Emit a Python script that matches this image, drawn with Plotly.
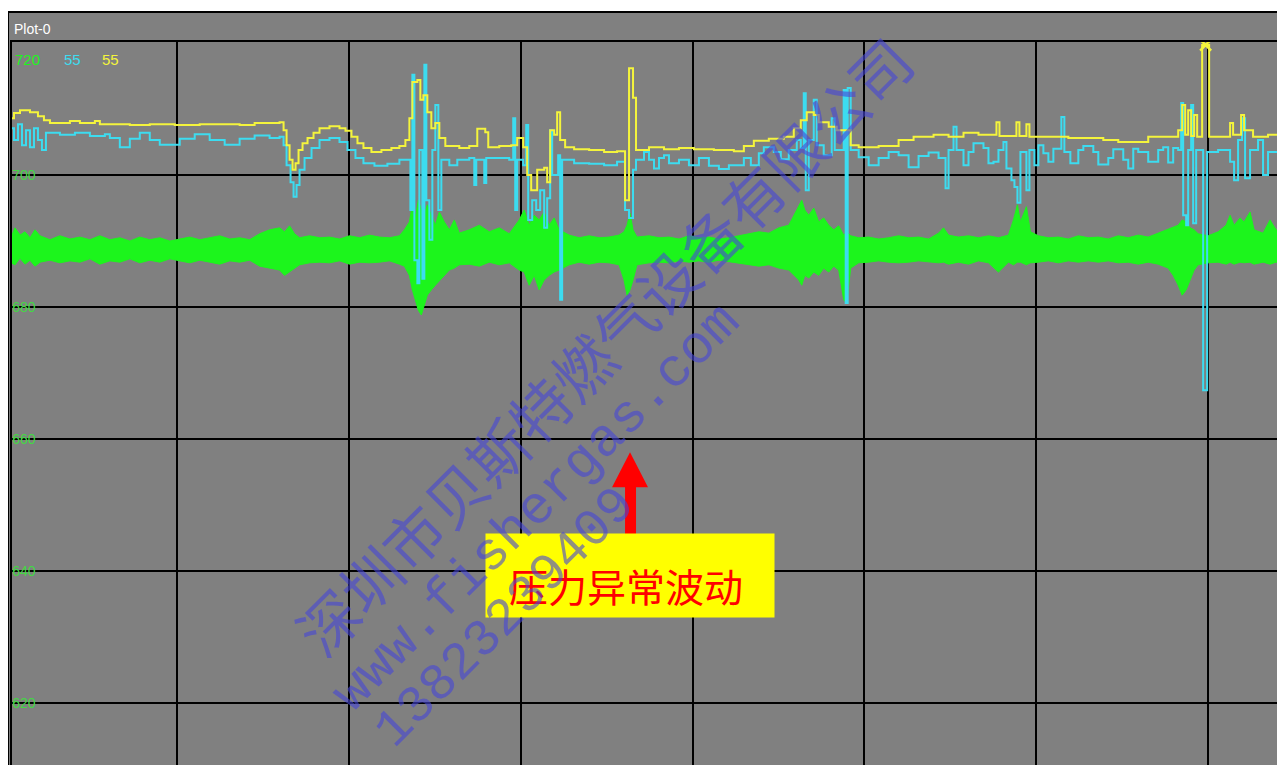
import plotly.graph_objects as go
import numpy as np

# ---------------- data (time index, pressure) ----------------
yellow_t = [10, 14, 20, 30, 38, 44, 50, 70, 80, 95, 100, 130, 150, 175, 200, 240, 255, 280, 284, 287, 290, 293, 296, 299,
            303, 308, 314, 320, 330, 340, 346, 352, 358, 364, 372, 382, 392, 400, 406, 410, 413, 418, 421, 424, 428, 432,
            436, 440, 446, 460, 470, 478, 486, 489, 500, 512, 518, 524, 528, 532, 538, 545, 548, 551, 555, 558, 561, 566,
            575, 590, 605, 618, 626, 630, 634, 637, 650, 665, 680, 695, 715, 735, 745, 755, 770, 785, 795, 802, 808, 815,
            820, 830, 838, 852, 860, 880, 900, 915, 935, 950, 965, 980, 998, 1001, 1018, 1021, 1028, 1031, 1050, 1070,
            1090, 1105, 1120, 1140, 1150, 1170, 1180, 1184, 1187, 1190, 1193, 1196, 1199, 1204, 1211, 1225, 1232, 1235,
            1243, 1246, 1255, 1270, 1285]
yellow_v = [708.6, 709.4, 709.8, 709.5, 708.9, 708.3, 707.9, 708.2, 707.9, 708.2, 707.7, 707.6, 707.7, 707.6, 707.7, 707.6,
            707.9, 708.0, 706.8, 704.5, 702.3, 700.8, 701.8, 703.8, 704.8, 705.6, 706.4, 707.1, 707.4, 707.1, 706.7, 705.8,
            704.8, 704.1, 703.5, 703.8, 704.1, 704.4, 705.3, 708.6, 714.1, 714.4, 711.4, 712.1, 709.5, 707.1, 707.9, 705.6,
            704.4, 704.1, 704.4, 707.0, 706.5, 704.2, 704.4, 704.5, 705.6, 704.2, 700.0, 697.7, 700.8, 701.1, 698.9, 706.8,
            706.1, 709.5, 705.3, 704.2, 703.9, 703.8, 703.5, 703.6, 696.2, 716.2, 711.7, 703.8, 704.2, 703.9, 704.1, 703.9,
            703.8, 703.6, 704.4, 705.2, 705.5, 705.8, 707.1, 708.3, 709.5, 709.1, 708.0, 707.3, 706.8, 704.5, 704.2, 704.4,
            705.3, 705.8, 706.1, 705.8, 706.4, 706.1, 708.0, 705.9, 708.0, 705.9, 707.7, 705.8, 705.8, 705.6, 705.6, 705.3,
            705.0, 705.0, 705.8, 705.8, 706.8, 710.6, 706.1, 709.8, 705.9, 709.1, 705.8, 719.7, 705.8, 705.8, 707.9, 706.1,
            709.1, 706.8, 705.8, 706.1, 705.6]

cyan_t = [10, 14, 18, 22, 26, 30, 34, 38, 42, 46, 60, 75, 90, 105, 110, 120, 130, 140, 150, 160, 180, 195, 210, 225, 240,
          255, 270, 280, 284, 287, 291, 294, 297, 300, 305, 312, 320, 330, 340, 348, 356, 364, 375, 388, 400, 408, 411,
          413, 415, 418, 420, 423, 425, 427, 430, 433, 436, 439, 442, 450, 458, 470, 475, 477, 485, 487, 500, 510, 514,
          516, 518, 524, 527, 529, 533, 537, 541, 545, 548, 551, 553, 559, 561, 563, 575, 590, 605, 618, 626, 630, 634,
          637, 645, 650, 655, 660, 665, 670, 680, 690, 700, 710, 720, 730, 745, 752, 760, 765, 775, 782, 790, 798, 802,
          805, 807, 810, 815, 818, 825, 833, 836, 843, 845, 847, 849, 852, 860, 870, 880, 890, 900, 910, 920, 930, 940,
          947, 950, 955, 958, 965, 970, 975, 985, 990, 995, 1000, 1005, 1008, 1013, 1016, 1019, 1022, 1028, 1031, 1036,
          1040, 1045, 1050, 1055, 1063, 1066, 1072, 1080, 1085, 1095, 1100, 1110, 1115, 1125, 1130, 1135, 1140, 1150,
          1160, 1165, 1170, 1175, 1180, 1183, 1185, 1188, 1190, 1193, 1195, 1198, 1205, 1209, 1220, 1232, 1236, 1240,
          1244, 1247, 1252, 1260, 1265, 1270, 1280, 1285]
cyan_v = [707.1, 705.3, 707.7, 704.5, 706.8, 704.2, 707.1, 705.3, 703.8, 706.4, 706.1, 706.4, 705.9, 706.2, 705.6, 704.2,
          705.5, 706.4, 705.3, 704.6, 705.5, 706.2, 705.3, 704.6, 705.5, 706.0, 705.6, 705.8, 704.5, 701.5, 698.9, 696.7,
          698.5, 700.8, 702.6, 704.1, 705.3, 705.6, 705.0, 703.8, 702.6, 701.8, 701.4, 701.7, 702.3, 702.3, 694.7, 715.2,
          687.1, 683.6, 703.8, 684.3, 716.7, 696.2, 690.2, 703.8, 710.6, 694.7, 702.3, 701.5, 702.3, 702.6, 698.5, 702.3,
          698.8, 702.6, 702.6, 702.3, 708.6, 694.7, 702.3, 701.5, 707.6, 693.2, 696.2, 694.7, 697.7, 692.0, 696.5, 706.8,
          700.0, 703.0, 681.1, 702.3, 701.8, 701.7, 701.5, 702.0, 694.7, 693.5, 700.8, 702.3, 703.5, 702.3, 701.0, 702.6,
          703.0, 701.8, 702.3, 701.5, 702.6, 701.4, 700.9, 701.5, 702.6, 701.5, 703.3, 704.2, 703.5, 702.4, 703.8, 705.3,
          704.1, 712.4, 697.7, 705.3, 711.4, 704.5, 703.0, 708.6, 703.8, 703.8, 712.9, 680.6, 713.2, 703.8, 702.7, 701.5,
          702.6, 703.5, 703.0, 701.2, 702.9, 703.4, 702.6, 698.0, 703.8, 707.3, 703.8, 701.5, 703.5, 704.8, 704.1, 701.8,
          702.0, 703.8, 705.0, 701.0, 699.2, 698.2, 695.8, 703.5, 697.7, 703.8, 701.5, 704.5, 703.3, 702.0, 704.0, 708.8,
          703.5, 701.8, 703.8, 704.4, 703.5, 701.6, 702.6, 703.9, 702.3, 701.0, 704.0, 703.5, 702.0, 703.8, 704.2, 701.9,
          704.1, 703.8, 710.9, 693.9, 692.4, 703.8, 710.6, 692.7, 703.8, 667.4, 703.5, 703.8, 702.0, 699.2, 705.3, 708.6,
          699.5, 703.8, 705.3, 700.0, 703.5, 706.1, 700.8]

green_t = [10, 15, 20, 25, 30, 35, 40, 50, 60, 70, 80, 90, 100, 110, 120, 130, 140, 150, 160, 170, 180, 190, 200, 210,
           220, 230, 240, 250, 260, 270, 280, 285, 290, 295, 300, 310, 320, 330, 340, 350, 360, 370, 380, 390, 400, 405,
           410, 413, 416, 419, 422, 425, 428, 432, 436, 440, 445, 450, 455, 460, 470, 480, 490, 500, 510, 520, 525, 530,
           535, 540, 545, 550, 555, 560, 570, 580, 590, 600, 610, 620, 625, 628, 631, 634, 638, 650, 660, 670, 680, 690,
           700, 710, 720, 730, 740, 750, 760, 770, 780, 790, 795, 800, 803, 806, 810, 815, 820, 825, 830, 835, 840, 845,
           848, 852, 860, 870, 880, 890, 900, 910, 920, 930, 940, 945, 950, 960, 970, 980, 990, 1000, 1010, 1015, 1019,
           1022, 1028, 1032, 1040, 1050, 1060, 1070, 1080, 1090, 1100, 1110, 1120, 1130, 1140, 1150, 1160, 1170, 1175,
           1180, 1184, 1188, 1192, 1196, 1200, 1210, 1220, 1228, 1232, 1236, 1242, 1246, 1252, 1256, 1265, 1272, 1278,
           1285]
green_hi = [690.2, 692.0, 690.9, 691.4, 690.5, 691.7, 690.8, 690.2, 690.8, 690.3, 690.6, 690.2, 690.8, 690.2, 690.5,
            690.0, 690.6, 690.2, 690.5, 690.0, 690.3, 690.6, 690.2, 690.5, 690.8, 690.3, 690.5, 690.2, 691.1, 691.7,
            692.0, 691.4, 692.3, 691.1, 690.5, 690.8, 690.5, 690.6, 690.3, 690.8, 690.5, 690.9, 690.6, 690.5, 690.8,
            691.7, 692.9, 695.5, 693.5, 696.2, 694.7, 693.9, 695.5, 693.9, 692.4, 694.4, 692.9, 691.7, 693.2, 691.2,
            691.7, 692.4, 691.4, 692.0, 691.1, 693.2, 694.7, 692.4, 693.9, 693.2, 694.4, 692.4, 693.5, 691.7, 690.9,
            690.5, 690.8, 690.5, 690.6, 690.9, 691.4, 692.4, 694.2, 691.7, 690.6, 690.8, 690.5, 690.6, 690.3, 690.8,
            690.5, 690.6, 690.3, 690.5, 690.8, 691.1, 691.4, 691.2, 692.0, 692.4, 693.9, 695.5, 696.2, 694.7, 693.9,
            695.0, 692.9, 693.5, 692.4, 691.7, 692.3, 690.9, 691.4, 690.8, 690.5, 690.6, 690.3, 690.5, 690.8, 690.5,
            690.6, 690.3, 691.2, 692.0, 690.9, 690.6, 690.8, 690.5, 690.8, 690.5, 690.9, 693.2, 695.5, 692.9, 695.2,
            691.4, 690.8, 690.5, 690.6, 690.3, 690.8, 690.5, 690.6, 690.3, 690.8, 690.5, 690.9, 690.6, 691.2, 691.7,
            692.0, 692.4, 693.2, 692.9, 692.0, 691.7, 691.1, 690.8, 691.4, 692.4, 693.9, 692.4, 693.5, 692.9, 694.4,
            691.7, 691.2, 693.2, 691.7, 691.2]
green_lo = [686.8, 686.4, 687.4, 686.5, 687.1, 686.2, 686.8, 687.1, 686.7, 687.0, 686.8, 687.3, 686.5, 687.0, 686.8,
            687.3, 686.7, 687.1, 686.8, 687.3, 687.0, 686.7, 687.1, 686.8, 686.5, 687.0, 686.8, 687.1, 686.2, 685.9,
            685.6, 684.8, 685.3, 685.9, 686.4, 686.7, 686.8, 686.7, 687.0, 686.5, 686.8, 686.7, 686.8, 687.0, 686.5,
            686.2, 684.8, 682.6, 681.1, 679.5, 678.8, 680.3, 681.8, 682.6, 683.3, 684.1, 684.8, 685.6, 685.9, 686.4,
            686.5, 686.2, 686.8, 686.4, 686.7, 685.6, 685.3, 683.3, 684.8, 682.6, 684.1, 684.8, 685.3, 685.6, 686.4,
            686.8, 686.5, 686.8, 686.7, 686.4, 684.1, 681.8, 682.6, 684.1, 686.4, 686.7, 686.8, 686.7, 687.0, 686.8,
            687.0, 686.8, 687.1, 686.8, 686.7, 686.4, 686.2, 686.4, 685.9, 685.6, 684.8, 684.1, 683.3, 684.8, 684.4,
            685.3, 684.8, 685.9, 685.3, 686.2, 685.6, 681.1, 680.6, 685.9, 686.7, 686.8, 687.0, 686.8, 686.7, 686.8,
            687.0, 686.8, 686.7, 686.8, 686.5, 686.8, 686.5, 687.0, 686.7, 685.3, 686.8, 686.4, 686.8, 686.8, 686.4,
            686.7, 686.8, 687.0, 686.7, 687.0, 686.8, 687.0, 686.8, 687.0, 686.7, 686.8, 686.5, 686.8, 686.5, 685.9,
            684.8, 683.3, 681.8, 682.6, 684.1, 685.6, 686.4, 686.7, 686.8, 686.5, 686.8, 686.5, 686.8, 686.7, 686.8,
            686.5, 686.8, 686.5, 686.8, 686.7]

legend_labels = ["720", "55", "55"]
y_ticks = [700, 680, 660, 640, 620]
y_range = [609.4, 720.16]
x_range = [12, 1293]

# ---------------- colours ----------------
BG = "#808080"
YEL = "#f4f43c"
CYA = "#3cdcf0"
GRN = "#1cf51c"

fig = go.Figure()

# green channel (dense noise band drawn as envelope)
fig.add_trace(go.Scatter(
    x=green_t + green_t[::-1], y=green_hi + green_lo[::-1],
    mode="lines", fill="toself", fillcolor=GRN,
    line=dict(color=GRN, width=1), hoverinfo="skip"))

fig.add_trace(go.Scatter(x=cyan_t, y=cyan_v, mode="lines", line=dict(color=CYA, width=2, shape="hv")))
fig.add_trace(go.Scatter(x=yellow_t, y=yellow_v, mode="lines", line=dict(color=YEL, width=2, shape="hv")))

# clip marker on highest yellow sample
i = int(np.argmax(yellow_v))
fig.add_trace(go.Scatter(x=[(yellow_t[i] + yellow_t[i + 1]) / 2], y=[yellow_v[i]], mode="markers",
                         marker=dict(symbol="x-thin", size=11, line=dict(color=YEL, width=2.5))))

# page body adds an 8px margin; positions below are in screen pixels
W, H = 1285, 765
OFF = 8
L, T = 12, 42                 # plot area top-left on screen
R, B = W + OFF, H + OFF        # plot area bottom-right on screen
pw, ph = R - L, B - T

def px(x):
    return (x - L) / pw

def py(y):
    return 1 - (y - T) / ph

shapes = [
    dict(type="rect", xref="paper", yref="paper", x0=px(8), x1=px(1300), y0=py(780), y1=py(12),
         fillcolor=BG, line=dict(color="black", width=2), layer="below"),
    dict(type="path", xref="x", yref="y",
         path="M 626,645.5 L 626,652.7 L 613,652.7 L 631,658.0 L 649,652.7 L 637,652.7 L 637,645.5 Z",
         fillcolor="#ff0000", line=dict(color="#ff0000", width=0), layer="above"),
]

C = dict(xref="paper", yref="paper", showarrow=False, xanchor="center", yanchor="middle")

ann = [
    dict(text="Plot-0", x=px(12), y=py(29), xref="paper", yref="paper", xanchor="left", yanchor="middle",
         showarrow=False, font=dict(family="Liberation Sans, Arial", size=14, color="white")),
]
for lbl, col, cx in zip(legend_labels, [GRN, CYA, YEL], [28, 73, 111]):
    ann.append(dict(text=lbl, x=px(cx), y=py(60), font=dict(family="Liberation Sans, Arial", size=15, color=col), **C))

ann.append(dict(text=" ", x=px(631), y=py(575.5), width=288, height=83, bgcolor="#ffff00", borderpad=0, **C))
ann.append(dict(text="压力异常波动", x=px(627), y=py(585),
                font=dict(family="Noto Sans CJK SC", size=39, color="#ff0000"), **C))

wm = "rgba(70,70,215,0.6)"
ann.append(dict(text="深圳市贝斯特燃气设备有限公司", x=px(603), y=py(344), textangle=-45,
                font=dict(family="Noto Sans CJK SC", size=60, color=wm), **C))
ann.append(dict(text="www.fishergas.com", x=px(537), y=py(508), textangle=-45,
                font=dict(family="Liberation Mono", size=54, color=wm), **C))
ann.append(dict(text="13823239409", x=px(506), y=py(618), textangle=-45,
                font=dict(family="Liberation Mono", size=52, color=wm), **C))

fig.update_layout(
    width=W, height=H, margin=dict(l=L - OFF, r=0, t=T - OFF, b=0, pad=0),
    paper_bgcolor="white", plot_bgcolor=BG, showlegend=False,
    shapes=shapes, annotations=ann,
    xaxis=dict(range=x_range, showticklabels=False, ticks="", showgrid=True, gridcolor="black", gridwidth=2,
               tick0=4.8, dtick=172.2, zeroline=False, showline=True, linecolor="black", linewidth=2, mirror=True),
    yaxis=dict(range=y_range, tickvals=y_ticks, ticktext=[str(v) for v in y_ticks], ticklabelposition="inside",
               tickfont=dict(family="Liberation Sans, Arial", size=14, color="#44d844"), ticks="",
               showgrid=True, gridcolor="black", gridwidth=2, zeroline=False,
               showline=True, linecolor="black", linewidth=2, mirror=True),
)

fig.write_html("out.html")
